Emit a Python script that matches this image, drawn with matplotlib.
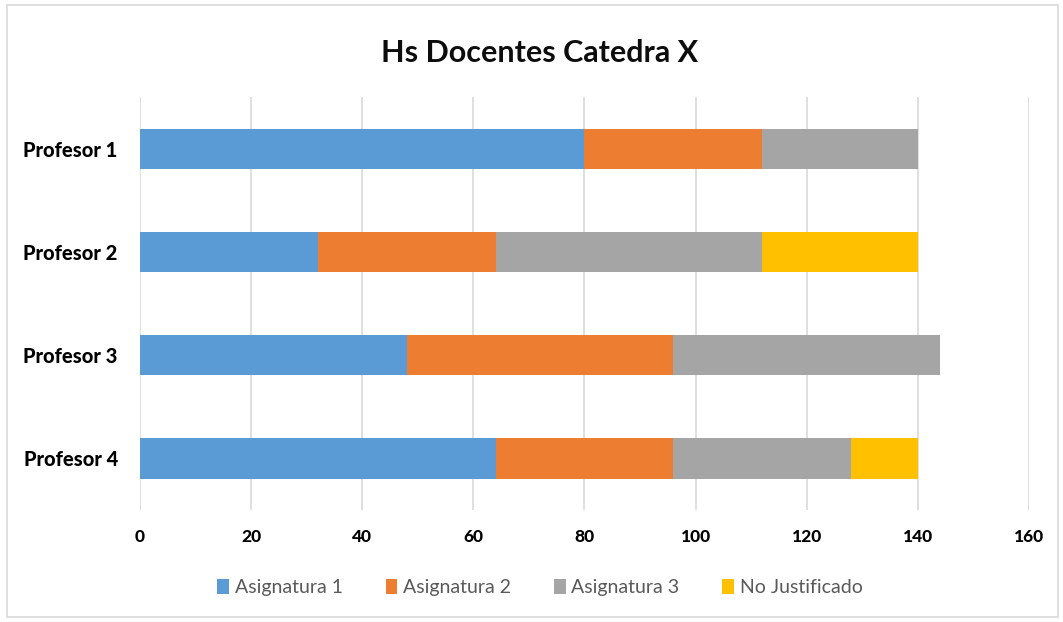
import numpy as np
import matplotlib.pyplot as plt
from matplotlib.patches import Rectangle

plt.rcParams['font.family'] = ['Lato', 'DejaVu Sans']

profesores = ['Profesor 1', 'Profesor 2', 'Profesor 3', 'Profesor 4']
asignatura1 = [80, 32, 48, 64]
asignatura2 = [32, 32, 48, 32]
asignatura3 = [28, 48, 48, 32]
no_justificado = [0, 28, 0, 12]
series_names = ['Asignatura 1', 'Asignatura 2', 'Asignatura 3', 'No Justificado']
colores = ['#5B9BD5', '#ED7D31', '#A5A5A5', '#FFC000']

fig = plt.figure(figsize=(10.63, 6.22), dpi=100)
ax = fig.add_axes([0.1317, 0.18, 0.8363, 0.664])

# borde exterior del grafico
fig.patches.append(Rectangle((0.007, 0.008), 0.988, 0.984, transform=fig.transFigure,
                             fill=False, edgecolor='#d9d9d9', linewidth=1.2))

y = np.arange(len(profesores))
left = np.zeros(len(profesores))
for vals, name, c in zip([asignatura1, asignatura2, asignatura3, no_justificado], series_names, colores):
    ax.barh(y, vals, left=left, height=0.39, color=c, label=name, zorder=3)
    left += np.array(vals)

ax.set_xlim(0, 160)
ax.set_ylim(len(profesores) - 0.5, -0.5)
ax.set_xticks(range(0, 161, 20))
ax.set_yticks(y)
ax.set_yticklabels(profesores, fontsize=14.5, fontweight='black')
ax.tick_params(axis='x', labelsize=12.5, length=0, pad=14)
ax.tick_params(axis='y', length=0, pad=16)
for lbl in ax.get_xticklabels():
    lbl.set_fontweight('black')
ax.grid(axis='x', color='#d9d9d9', linewidth=1.2, zorder=0)
for s in ax.spines.values():
    s.set_visible(False)

fig.text(0.508, 0.915, 'Hs Docentes Catedra X', ha='center', va='center',
         fontsize=22, fontweight='bold', color='#0d0d0d')

fig.legend(loc='center', bbox_to_anchor=(0.508, 0.055), ncol=4, frameon=False,
           fontsize=14, handlelength=0.6, handleheight=0.8, handletextpad=0.3,
           columnspacing=2.2, labelcolor='#595959')

fig.savefig('out.png', dpi=100)
